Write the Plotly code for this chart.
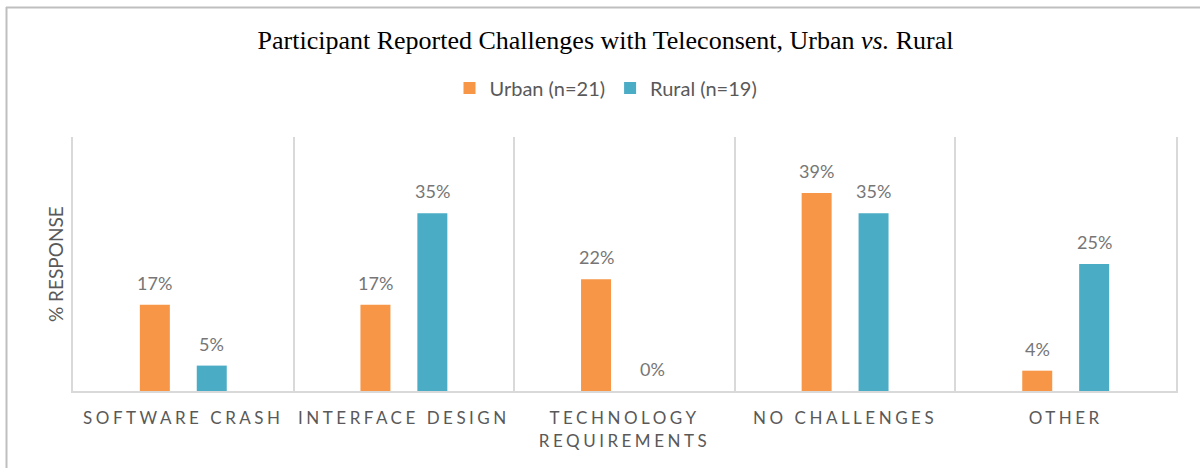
import plotly.graph_objects as go

categories = ["SOFTWARE CRASH", "INTERFACE DESIGN", "TECHNOLOGY<br>REQUIREMENTS", "NO CHALLENGES", "OTHER"]
urban_values = [17, 17, 22, 39, 4]
rural_values = [5, 35, 0, 35, 25]
series_names = ["Urban (n=21)", "Rural (n=19)"]
title_text = "Participant Reported Challenges with Teleconsent, Urban <i>vs.</i> Rural"
y_title = "% RESPONSE"

W, H = 1200, 468
ML, MR, MT, MB = 73, 24, 137, 77
PW, PH = W - ML - MR, H - MT - MB

ORANGE = "#F79646"
BLUE = "#4BACC6"
GRAY_TXT = "#595959"
LABEL_TXT = "#767676"
GRID = "#D9D9D9"
BORDER = "#BFBFBF"

BARGAP = 0.484
BARGROUPGAP = 0.473
YMAX = 50

fig = go.Figure()
for name, vals, col in [(series_names[0], urban_values, ORANGE), (series_names[1], rural_values, BLUE)]:
    fig.add_trace(go.Bar(
        x=categories, y=vals, name=name,
        marker=dict(color=col, line=dict(width=0)),
        hoverinfo="x+y+name",
    ))

# data labels above bars
slot = (1 - BARGAP) / 2
offsets = [-slot / 2, slot / 2]
annotations = []
for vals, off in [(urban_values, offsets[0]), (rural_values, offsets[1])]:
    for i, v in enumerate(vals):
        annotations.append(dict(
            x=i + off, y=v, xref="x", yref="y", text=f"{v}%",
            showarrow=False, yanchor="bottom", yshift=9,
            font=dict(family="Lato", size=18, color=LABEL_TXT),
        ))

# y-axis title
annotations.append(dict(
    x=-18 / PW, y=0.5, xref="paper", yref="paper", text=y_title,
    textangle=-90, showarrow=False, xanchor="center", yanchor="middle",
    font=dict(family="Lato", size=19, color=GRAY_TXT),
))

def px_x(px):
    return (px - ML) / PW

def px_y(py):
    return (H - MB - py) / PH

shapes = [
    dict(type="line", xref="paper", yref="paper",
         x0=px_x(6), x1=px_x(W + 5), y0=px_y(7.5), y1=px_y(7.5),
         line=dict(color=BORDER, width=2)),
    dict(type="line", xref="paper", yref="paper",
         x0=px_x(6.5), x1=px_x(6.5), y0=px_y(7), y1=px_y(H + 5),
         line=dict(color=BORDER, width=2)),
]

fig.update_layout(
    width=W, height=H,
    margin=dict(l=ML, r=MR, t=MT, b=MB, pad=0),
    paper_bgcolor="white", plot_bgcolor="white",
    barmode="group", bargap=BARGAP, bargroupgap=BARGROUPGAP,
    title=dict(text=title_text, x=605.5 / W, xanchor="center", xref="container",
               y=1 - 40 / H, yanchor="middle", yref="container",
               font=dict(family="Liberation Serif", size=26, color="#000000")),
    legend=dict(orientation="h", x=606 / W, xanchor="center", xref="container",
                y=1 - 88 / H, yanchor="middle", yref="container",
                font=dict(family="Lato", size=20, color=GRAY_TXT),
                itemclick=False, itemdoubleclick=False, traceorder="normal"),
    showlegend=True,
    annotations=annotations,
    shapes=shapes,
    xaxis=dict(
        type="category", tickson="boundaries", showgrid=True, gridcolor=GRID, gridwidth=1.5,
        showline=True, linecolor=GRID, linewidth=2, ticks="", ticklabelstandoff=11,
        tickfont=dict(family="Lato", size=17, color=GRAY_TXT),
        fixedrange=True,
    ),
    yaxis=dict(
        range=[0, YMAX], showgrid=False, zeroline=False, showticklabels=False,
        showline=True, linecolor=GRID, linewidth=1.5, mirror=True, ticks="",
        fixedrange=True,
    ),
    font=dict(family="Lato", color=GRAY_TXT),
)

post = ("document.body.style.margin='0';"
        "document.documentElement.style.margin='0';"
        "var s=document.createElement('style');"
        "s.textContent='body{margin:0;overflow:hidden}.xtick text{letter-spacing:3.5px;}';"
        "document.head.appendChild(s);")
fig.write_html("out.html", post_script=post, config={"displayModeBar": False})
